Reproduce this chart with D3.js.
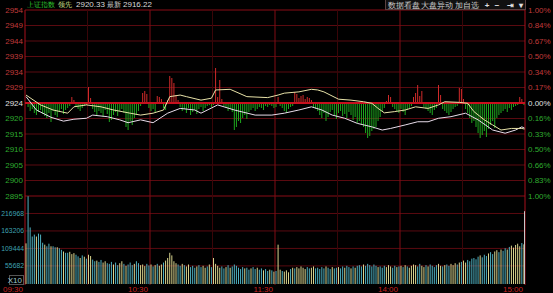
<!DOCTYPE html>
<html>
<head>
<meta charset="utf-8">
<script src="https://cdn.jsdelivr.net/npm/d3@7"></script>
<style>
  body { margin: 0; background: #000; }
  text { font-family: "Liberation Sans", Arial, sans-serif; }
</style>
</head>
<body>
<svg width="553" height="293"></svg>
<script>
// ---- data ----
const basePrice = 2924.4;
const priceLabels = ["2954", "2949", "2944", "2939", "2934", "2929", "2924", "2920", "2915", "2910", "2905", "2900", "2895"];
const pctLabels = ["1.00%", "0.84%", "0.67%", "0.50%", "0.34%", "0.17%", "0.00%", "0.16%", "0.33%", "0.50%", "0.66%", "0.83%", "1.00%"];
const volTicks = [216968, 163206, 109444, 55682];
const timeLabels = ["09:30", "10:30", "11:30", "14:00", "15:00"];
const timeMinutes = [0, 60, 120, 180, 240];

// [minute, index value]
const leadLine = [
  [0, 2926.9], [7, 2923.8], [13, 2922.2], [20, 2921.2], [23, 2923.2], [29, 2923.8], [36, 2923.2],
  [42, 2922.2], [50, 2921.2], [55, 2920.6], [61, 2921.2], [66, 2922.2], [69, 2926.4], [74, 2926.9],
  [77, 2926.4], [84, 2925.3], [89, 2925.9], [91, 2928.5], [98, 2928.7], [106, 2926.4], [116, 2926.1],
  [121, 2926.9], [124, 2927.5], [131, 2927.9], [137, 2928.7], [140, 2928.5], [143, 2927.9], [150, 2925.6],
  [156, 2925.3], [162, 2924.8], [166, 2924.3], [169, 2922.7], [172, 2921.3], [177, 2921.7], [182, 2922.2],
  [187, 2923.2], [193, 2922.7], [198, 2923.8], [201, 2924.8], [208, 2924.6], [212, 2924.3], [215, 2921.7],
  [220, 2919.1], [224, 2917.5], [228, 2915.9], [233, 2916.4], [238, 2916.4], [240, 2916.2]
];
const indexLine = [
  [0, 2926.4], [5, 2922.2], [12, 2919.9], [18, 2918.7], [23, 2919.3], [29, 2919.6], [32, 2920.6],
  [39, 2920.1], [45, 2919.1], [49, 2918.2], [55, 2919.1], [61, 2918.2], [68, 2921.2], [74, 2922.7],
  [81, 2922.2], [84, 2921.2], [92, 2923.8], [100, 2922.2], [110, 2920.6], [118, 2920.6], [124, 2921.2],
  [131, 2922.2], [137, 2923.2], [142, 2922.2], [147, 2920.6], [153, 2919.6], [159, 2918.0], [166, 2916.9],
  [171, 2915.9], [175, 2916.4], [182, 2917.5], [188, 2918.5], [193, 2918.5], [198, 2919.6], [204, 2920.1],
  [211, 2921.2], [217, 2919.1], [224, 2915.9], [230, 2914.9], [235, 2915.9], [238, 2916.9], [240, 2916.5]
];

// buy/sell strength bars per minute (+ red up, - green down)
const strength = [
  0, -4, -8, -6, -10, -12, -9, -7, -11, -13,
  -15, -10, -19, -8, -12, -14, -9, -6, -11, -7,
  -5, -3, 6, 3, -4, -6, -8, -5, -3, -2,
  16, 5, -6, -9, -12, -8, -10, -14, -7, -11,
  -19, -17, -12, -9, -13, -8, -6, -10, -24, -27,
  -18, -22, -15, -12, -8, -3, 10, 12, 9, -5,
  -8, -6, -9, 7, 6, 4, -5, -7, 3, 27,
  25, 20, 8, 3, -4, -8, -6, -10, -5, -12,
  -9, -7, -11, -6, -4, -8, -5, -3, -2, -4,
  -2, 35, 6, 23, 4, -3, -5, -8, -6, -9,
  -27, -24, -18, -20, -15, -12, -16, -9, -7, -5,
  -8, -6, -4, -5, -7, -3, -4, -2, -3, -5,
  -4, 6, -3, -5, -8, -10, -6, -4, -3, 11,
  9, 5, 7, 8, 4, 6, 5, 3, -4, -6,
  -8, -12, -15, -10, -18, -14, -9, -7, -12, -16,
  -10, -8, -13, -11, -15, -9, -12, -17, -14, -20,
  -18, -22, -24, -30, -35, -33, -28, -26, -24, -18,
  -14, -8, -5, 2, 8, 6, -4, -6, -8, -10,
  -6, -9, -12, -7, -5, -3, 6, 10, 18, 7,
  12, -4, -6, -8, -10, -12, -7, -5, 18, 8,
  -6, -8, -10, -12, -9, -6, -4, -3, 15, 14,
  4, -6, -10, -15, -20, -18, -24, -30, -35, -32,
  -28, -34, -26, -22, -18, -25, -15, -12, -10, -8,
  -6, -9, -5, -7, -4, -3, -2, 6, 4, -2,
  0
];

const volume = [
  125000, 270000, 174000, 146000, 152000, 146000, 155000, 152000, 127000, 121000,
  116000, 124000, 116000, 116000, 113000, 113000, 110000, 105000, 100000, 96000,
  96000, 99000, 92000, 95000, 90000, 85000, 80000, 88000, 84000, 78000,
  90000, 86000, 75000, 70000, 72000, 68000, 74000, 66000, 70000, 64000,
  62000, 68000, 60000, 66000, 58000, 64000, 70000, 62000, 56000, 60000,
  66000, 58000, 62000, 70000, 64000, 58000, 60000, 55000, 62000, 57000,
  60000, 54000, 58000, 62000, 56000, 60000, 66000, 72000, 80000, 96000,
  88000, 70000, 64000, 60000, 56000, 62000, 58000, 54000, 60000, 52000,
  56000, 50000, 54000, 58000, 52000, 56000, 50000, 54000, 60000, 52000,
  80000, 62000, 56000, 50000, 54000, 48000, 52000, 58000, 50000, 54000,
  60000, 56000, 50000, 46000, 52000, 48000, 50000, 44000, 48000, 52000,
  46000, 50000, 44000, 48000, 42000, 46000, 40000, 44000, 42000, 38000,
  40000, 121000, 44000, 40000, 38000, 42000, 36000, 46000, 50000, 48000,
  52000, 48000, 54000, 50000, 46000, 52000, 48000, 50000, 54000, 48000,
  50000, 46000, 52000, 48000, 54000, 50000, 46000, 52000, 48000, 50000,
  52000, 48000, 54000, 50000, 56000, 52000, 48000, 54000, 50000, 56000,
  58000, 54000, 60000, 56000, 62000, 58000, 54000, 60000, 56000, 52000,
  54000, 50000, 56000, 52000, 58000, 54000, 50000, 56000, 52000, 54000,
  56000, 52000, 58000, 54000, 50000, 56000, 60000, 58000, 54000, 62000,
  56000, 52000, 58000, 54000, 60000, 56000, 52000, 58000, 62000, 56000,
  54000, 58000, 60000, 56000, 62000, 58000, 64000, 60000, 66000, 68000,
  72000, 66000, 74000, 70000, 78000, 80000, 76000, 84000, 88000, 82000,
  90000, 86000, 94000, 98000, 92000, 100000, 104000, 98000, 106000, 102000,
  110000, 106000, 114000, 118000, 112000, 120000, 124000, 116000, 126000, 122000,
  224000
];
// u = up minute (yellow), d = down minute (cyan), n = closing print
const volDir = (
  "uddddudddu" + "ddudduddud" + "duuuddudud" + "uuddudduud" + "ddudduudud" +
  "ddudduuudd" + "ududuuduuu" + "uuudduduud" + "ddudduudud" + "uuuuddudud" +
  "ddddduddud" + "dudduddudu" + "duuduuudud" + "uuuuudduud" + "dddduddudd" +
  "udduddudud" + "dduddddddu" + "ddduuuddud" + "ududuuuudd" + "uududddduu" +
  "dudduuudud" + "uuddddddud" + "ddudduudud" + "duduuuuudu" + "n"
).split("");

// ---- layout ----
const left = 25, right = 525;
const priceTop = 10, priceBottom = 196, volBottom = 284;

const svg = d3.select("svg");
svg.append("rect").attr("width", 553).attr("height", 293).attr("fill", "#000");

const x = d3.scaleLinear().domain([0, 240]).range([left, right]);
const yPrice = d3.scaleLinear().domain([basePrice * 0.99, basePrice * 1.01]).range([priceBottom, priceTop]);
const yStr = d3.scaleLinear().domain([-93, 93]).range([priceBottom, priceTop]);
const yVol = d3.scaleLinear().domain([0, 270730]).range([volBottom, priceBottom]);
const bx = i => Math.min(x(i) + 1, right - 0.5);

// grid
const rowH = (priceBottom - priceTop) / 12;
priceLabels.forEach((l, i) => {
  const yy = priceTop + i * rowH;
  if (i === 6) return;
  svg.append("line").attr("x1", left).attr("x2", right).attr("y1", yy).attr("y2", yy)
    .attr("stroke", (i === 0 || i === 12) ? "#8a0c16" : "#5a0a10").attr("stroke-width", 1);
});
volTicks.forEach(v => {
  svg.append("line").attr("x1", left).attr("x2", right).attr("y1", yVol(v)).attr("y2", yVol(v))
    .attr("stroke", "#5a0a10");
});
d3.range(0, 241, 30).forEach(m => {
  const edge = m === 0 || m === 240;
  const c = edge ? "#a8101c" : (m % 60 === 0 ? "#800c14" : "#3a0508");
  svg.append("line").attr("x1", x(m)).attr("x2", x(m)).attr("y1", priceTop).attr("y2", volBottom + 1)
    .attr("stroke", c).attr("stroke-width", 1);
});

// strength bars
svg.append("g").selectAll("line").data(strength).join("line")
  .attr("x1", (d, i) => bx(i)).attr("x2", (d, i) => bx(i))
  .attr("y1", yStr(0)).attr("y2", d => yStr(d))
  .attr("stroke", d => d > 0 ? "#d02a2a" : "#1ea81e").attr("stroke-width", 1);

// zero line
svg.append("line").attr("x1", left).attr("x2", right).attr("y1", yStr(0)).attr("y2", yStr(0))
  .attr("stroke", "#c8101e").attr("stroke-width", 2);

// index lines
const line = d3.line().x(d => bx(d[0])).y(d => yPrice(d[1]));
svg.append("path").datum(indexLine).attr("d", line).attr("fill", "none")
  .attr("stroke", "#e8dcea").attr("stroke-width", 1);
svg.append("path").datum(leadLine).attr("d", line).attr("fill", "none")
  .attr("stroke", "#e8e2a8").attr("stroke-width", 1);

// volume bars
const volColor = { u: "#d8d48e", d: "#4fb0c0", n: "#c8c8c8" };
svg.append("g").selectAll("line").data(volume).join("line")
  .attr("x1", (d, i) => bx(i)).attr("x2", (d, i) => bx(i))
  .attr("y1", yVol(0)).attr("y2", d => yVol(d))
  .attr("stroke", (d, i) => volColor[volDir[i]]).attr("stroke-width", 1);

// left / right axis labels
priceLabels.forEach((l, i) => {
  const yy = priceTop + i * rowH;
  const c = i < 6 ? "#c03a3a" : (i === 6 ? "#e0e0e0" : "#2faa2f");
  svg.append("text").attr("x", 23).attr("y", yy).attr("dy", "0.35em")
    .attr("text-anchor", "end").attr("font-size", 8).attr("fill", c).text(l);
});
pctLabels.forEach((l, i) => {
  const yy = priceTop + i * rowH;
  const c = i < 6 ? "#c03a3a" : (i === 6 ? "#e0e0e0" : "#2faa2f");
  svg.append("text").attr("x", 528).attr("y", yy).attr("dy", "0.35em")
    .attr("font-size", 8).attr("fill", c).text(l);
});
volTicks.forEach(v => {
  svg.append("text").attr("x", 24).attr("y", yVol(v)).attr("dy", "0.35em")
    .attr("text-anchor", "end").attr("font-size", 6.8).attr("fill", "#3fa2b2").text(v);
});
svg.append("rect").attr("x", 9.5).attr("y", 275.5).attr("width", 14).attr("height", 9)
  .attr("fill", "none").attr("stroke", "#555");
svg.append("text").attr("x", 22).attr("y", 280).attr("dy", "0.35em").attr("text-anchor", "end")
  .attr("font-size", 8).attr("fill", "#9cc8d0").text("X10");

// time labels
timeLabels.forEach((t, i) => {
  svg.append("text").attr("x", x(timeMinutes[i]) - 2).attr("y", 289).attr("dy", "0.35em")
    .attr("text-anchor", "end").attr("font-size", 8).attr("fill", "#c82020").text(t);
});

// header
const head = svg.append("g").attr("font-size", 8);
head.append("text").attr("x", 27).attr("y", 7).attr("fill", "#2ec22e")
  .attr("font-family", "Noto Sans CJK SC").attr("font-size", 7).text("上证指数");
head.append("text").attr("x", 58).attr("y", 7).attr("fill", "#d6e48a")
  .attr("font-family", "Noto Sans CJK SC").attr("font-size", 7).text("领先");
head.append("text").attr("x", 76).attr("y", 7).attr("fill", "#d8d8d8").text("2920.33");
head.append("text").attr("x", 107).attr("y", 7).attr("fill", "#d8d8d8")
  .attr("font-family", "Noto Sans CJK SC").attr("font-size", 7).text("最新");
head.append("text").attr("x", 123).attr("y", 7).attr("fill", "#d8d8d8").text("2916.22");

// toolbar
svg.append("rect").attr("x", 385.5).attr("y", -1).attr("width", 140).attr("height", 10.5)
  .attr("fill", "#111").attr("stroke", "#5a4040");
const tools = [["数据看盘", 388], ["大盘异动", 421], ["加自选", 455]];
tools.forEach(t => {
  svg.append("text").attr("x", t[1]).attr("y", 7.5).attr("fill", "#cfcfcf")
    .attr("font-family", "Noto Sans CJK SC").attr("font-size", 7.5).text(t[0]);
});
[["+", 487], ["−", 497], ["⇥", 510], ["▾", 521]].forEach(t => {
  svg.append("text").attr("x", t[1]).attr("y", 7.5).attr("text-anchor", "middle")
    .attr("fill", "#e0e0e0").attr("font-family", "DejaVu Sans").attr("font-size", 8)
    .attr("font-weight", "bold").text(t[0]);
});
</script>
</body>
</html>
